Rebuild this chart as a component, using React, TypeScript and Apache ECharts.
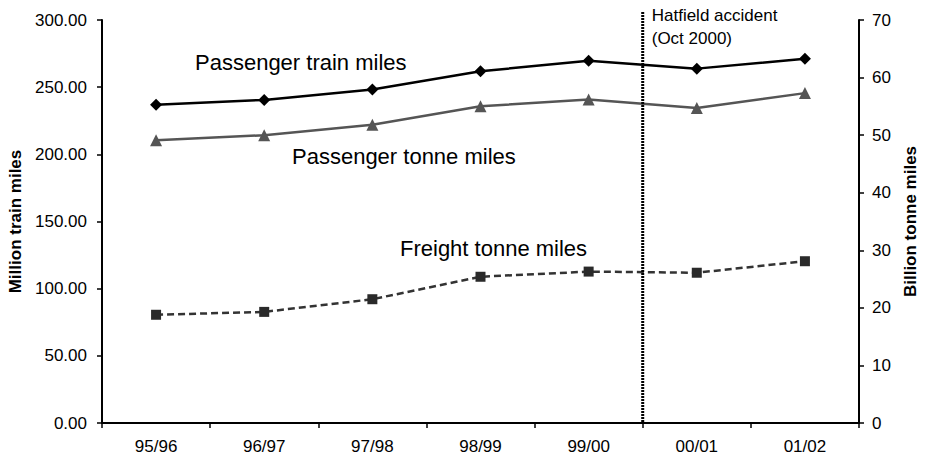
import React, { useEffect, useRef } from "react";
import * as echarts from "echarts";

const categories = ["95/96", "96/97", "97/98", "98/99", "99/00", "00/01", "01/02"];
const passengerTrainMiles = [237, 240.5, 248.3, 261.8, 269.7, 263.8, 271.2];
const passengerTonneMiles = [49.1, 50.0, 51.8, 55.0, 56.2, 54.7, 57.3];
const freightTonneMiles = [18.8, 19.3, 21.5, 25.4, 26.3, 26.1, 28.1];
const leftTicks = { min: 0, max: 300, interval: 50 };
const rightTicks = { min: 0, max: 70, interval: 10 };
const eventAfterIndex = 4;

const FONT = "Liberation Sans, Arial, sans-serif";

export default function App() {
  const ref = useRef<HTMLDivElement>(null);
  useEffect(() => {
    if (!ref.current) return;
    const chart = echarts.init(ref.current, null, { renderer: "svg" });
    const option: any = {
      animation: false,
      backgroundColor: "#ffffff",
      textStyle: { fontFamily: FONT },
      grid: { left: 102, right: 68, top: 20, bottom: 41, containLabel: false, outerBoundsMode: "none" },
      xAxis: {
        type: "category",
        data: categories,
        boundaryGap: true,
        axisLine: { lineStyle: { color: "#000", width: 2 } },
        axisTick: { show: true, length: 5, lineStyle: { color: "#000", width: 1.5 } },
        axisLabel: { color: "#000", fontSize: 17, margin: 15, fontFamily: FONT },
      },
      yAxis: [
        {
          type: "value",
          min: leftTicks.min,
          max: leftTicks.max,
          interval: leftTicks.interval,
          name: "Million train miles",
          nameLocation: "middle",
          nameGap: 77,
          nameTextStyle: { fontWeight: "bold", fontSize: 17, color: "#000", fontFamily: FONT },
          axisLine: { show: true, lineStyle: { color: "#000", width: 2 } },
          axisTick: { show: true, length: 5, lineStyle: { color: "#000", width: 1.5 } },
          axisLabel: {
            color: "#000",
            fontSize: 17,
            margin: 15,
            fontFamily: FONT,
            formatter: (v: number) => v.toFixed(2),
          },
          splitLine: { show: false },
        },
        {
          type: "value",
          min: rightTicks.min,
          max: rightTicks.max,
          interval: rightTicks.interval,
          position: "right",
          name: "Billion tonne miles",
          nameLocation: "middle",
          nameGap: 42,
          nameRotate: 90,
          nameTextStyle: { fontWeight: "bold", fontSize: 17, color: "#000", fontFamily: FONT },
          axisLine: { show: true, lineStyle: { color: "#000", width: 2 } },
          axisTick: { show: true, length: 5, inside: false, lineStyle: { color: "#000", width: 1.5 } },
          axisLabel: { color: "#000", fontSize: 17, margin: 13, fontFamily: FONT },
          splitLine: { show: false },
        },
      ],
      series: [
        {
          name: "Passenger train miles",
          type: "line",
          yAxisIndex: 0,
          data: passengerTrainMiles,
          symbol: "diamond",
          symbolSize: 12,
          lineStyle: { color: "#000", width: 2.5 },
          itemStyle: { color: "#000" },
        },
        {
          name: "Passenger tonne miles",
          type: "line",
          yAxisIndex: 1,
          data: passengerTonneMiles,
          symbol: "triangle",
          symbolSize: 12,
          lineStyle: { color: "#555", width: 2.5 },
          itemStyle: { color: "#555" },
        },
        {
          name: "Freight tonne miles",
          type: "line",
          yAxisIndex: 1,
          data: freightTonneMiles,
          symbol: "rect",
          symbolSize: 10,
          lineStyle: { color: "#333", width: 2.5, type: [7, 4] },
          itemStyle: { color: "#2a2a2a" },
        },
      ],
    };
    chart.setOption(option);

    const p1 = chart.convertToPixel({ xAxisIndex: 0 }, categories[eventAfterIndex]) as number;
    const p2 = chart.convertToPixel({ xAxisIndex: 0 }, categories[eventAfterIndex + 1]) as number;
    const lineX = (p1 + p2) / 2;
    const yBottom = chart.convertToPixel({ yAxisIndex: 0 }, 0) as number;

    chart.setOption({
      graphic: [
        {
          type: "line",
          shape: { x1: lineX, y1: 12, x2: lineX, y2: yBottom },
          style: { stroke: "#000", lineWidth: 3, lineDash: [2, 1] },
          z: 10,
        },
        {
          type: "text",
          x: lineX + 9,
          y: 4,
          style: {
            text: "Hatfield accident\n(Oct 2000)",
            fill: "#000",
            font: `17px ${FONT}`,
            lineHeight: 23,
          },
        },
        {
          type: "text",
          x: 195,
          y: 62,
          style: { text: "Passenger train miles", fill: "#000", font: `22px ${FONT}`, verticalAlign: "middle" },
        },
        {
          type: "text",
          x: 292,
          y: 156,
          style: { text: "Passenger tonne miles", fill: "#000", font: `22px ${FONT}`, verticalAlign: "middle" },
        },
        {
          type: "text",
          x: 400,
          y: 248,
          style: { text: "Freight tonne miles", fill: "#000", font: `22px ${FONT}`, verticalAlign: "middle" },
        },
      ],
    });

    return () => chart.dispose();
  }, []);
  return <div ref={ref} style={{ width: 927, height: 464, position: "absolute", left: 0, top: 0 }} />;
}
